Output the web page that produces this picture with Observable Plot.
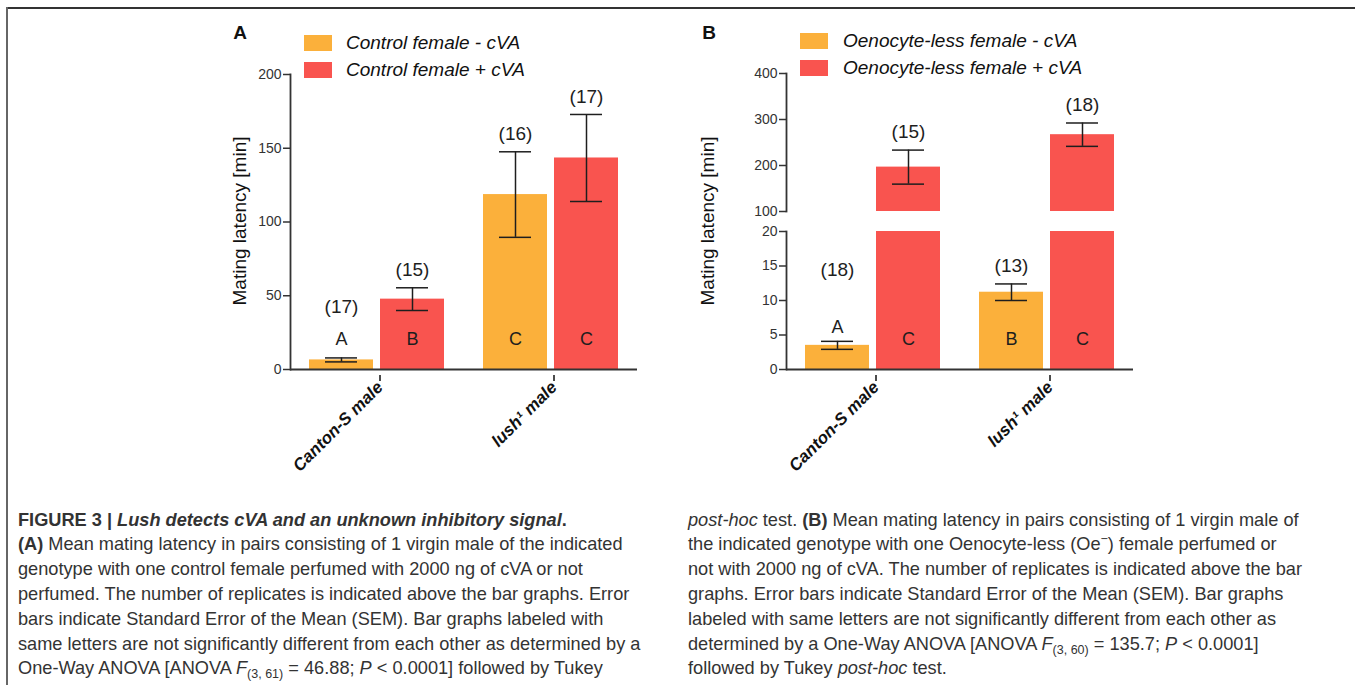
<!DOCTYPE html>
<html><head><meta charset="utf-8">
<script src="https://cdn.jsdelivr.net/npm/d3@7"></script>
<script src="https://cdn.jsdelivr.net/npm/@observablehq/plot@0.6"></script>
<style>
body{margin:0;background:#fff;}
#fig{position:relative;width:1355px;height:685px;overflow:hidden;font-family:"Liberation Sans",Arial,sans-serif;background:#fff;}
.frameTop{position:absolute;left:6px;top:7px;width:1349px;border-top:2px solid #333;}
.frameLeft{position:absolute;left:6px;top:7px;height:678px;border-left:2px solid #666;}
.plot{position:absolute;top:0;}
.panel{position:absolute;font-weight:bold;font-size:19px;color:#111;transform:translate(-50%,-50%);}
.leg{position:absolute;font-style:italic;font-size:19px;color:#111;white-space:nowrap;transform:translateY(-50%);}
.sw{position:absolute;width:28px;height:16px;}
.ytitle{position:absolute;font-size:19px;color:#111;transform:translate(-50%,-50%) rotate(-90deg);white-space:nowrap;}
.cap{position:absolute;font-size:18.2px;color:#333;line-height:24.8px;white-space:nowrap;}
.cap sub{font-size:12.5px;vertical-align:-4px;line-height:0;}
.cap sup{font-size:12.5px;vertical-align:7px;line-height:0;}
</style></head><body><div id="fig"></div>
<script>
// ---------- data ----------
const genotypes = ["Canton-S male", "lush¹ male"];
const treatments = ["-cVA", "+cVA"];
const colors = ["#FBB03B", "#F9544F"];

// Panel A: control female
const legendA = ["Control female - cVA", "Control female + cVA"];
const aMinusMean = [6.5, 118.6];
const aMinusSem = [1.35, 29];
const aMinusN = [17, 16];
const aMinusLetter = ["A", "C"];
const aPlusMean = [47.7, 143.4];
const aPlusSem = [7.7, 29.5];
const aPlusN = [15, 17];
const aPlusLetter = ["B", "C"];
const aTicks = [0, 50, 100, 150, 200];

// Panel B: oenocyte-less female
const legendB = ["Oenocyte-less female - cVA", "Oenocyte-less female + cVA"];
const bMinusMean = [3.5, 11.2];
const bMinusSem = [0.58, 1.2];
const bMinusN = [18, 13];
const bMinusLetter = ["A", "B"];
const bPlusMean = [196.5, 267];
const bPlusSem = [37, 25.4];
const bPlusN = [15, 18];
const bPlusLetter = ["C", "C"];
const bLowTicks = [0, 5, 10, 15, 20];
const bHighTicks = [100, 200, 300, 400];

const yTitle = "Mating latency [min]";

// ---------- build tables ----------
function rowsFor(means, sems, ns, letters, t) {
  return genotypes.map((g, i) => ({genotype: g, treatment: t, mean: means[i], sem: sems[i], n: ns[i], letter: letters[i]}));
}
const rowsA = [rowsFor(aMinusMean, aMinusSem, aMinusN, aMinusLetter, treatments[0]),
               rowsFor(aPlusMean, aPlusSem, aPlusN, aPlusLetter, treatments[1])];
const rowsB = [rowsFor(bMinusMean, bMinusSem, bMinusN, bMinusLetter, treatments[0]),
               rowsFor(bPlusMean, bPlusSem, bPlusN, bPlusLetter, treatments[1])];

const INK = "#1e1e1e", AX = "#333";
const OFF = 35.5;              // sub-bar centre offset from band centre (px)
const BAR_IN = 71, CAP_NEAR = 16, CAP_FAR = 87;

function makePanel(o) {
  const marks = [];
  o.rows.forEach((rows, k) => {
    const sgn = k === 0 ? -1 : 1;
    const shown = rows.filter(d => d.mean > o.domain[0]);
    marks.push(Plot.barY(shown, {
      x: "genotype", y1: o.domain[0], y2: d => Math.min(d.mean, o.domain[1]),
      fill: colors[k], insetLeft: k ? BAR_IN : 0, insetRight: k ? 0 : BAR_IN
    }));
    const inside = rows.filter(d => d.mean >= o.domain[0] && d.mean <= o.domain[1]);
    marks.push(Plot.ruleX(inside, {x: "genotype", y1: d => d.mean - d.sem, y2: d => d.mean + d.sem, dx: sgn * OFF, stroke: INK, strokeWidth: 1.5}));
    for (const s of [-1, 1]) {
      marks.push(Plot.tickY(inside, {x: "genotype", y: d => d.mean + s * d.sem, insetLeft: k ? CAP_FAR : CAP_NEAR, insetRight: k ? CAP_NEAR : CAP_FAR, stroke: INK, strokeWidth: 1.5}));
    }
    marks.push(Plot.text(inside, {x: "genotype", y: d => Math.max(d.mean + d.sem, o.nFloor), text: d => `(${d.n})`, dx: sgn * OFF, dy: -18, fontSize: 19, fill: INK}));
    if (o.letters) {
      marks.push(Plot.text(rows, {x: "genotype",
        y: d => d.mean < o.letterLevel ? Math.max(o.letterLevel, d.mean + d.sem + o.letterPad) : o.letterLevel,
        text: "letter", dx: sgn * OFF, fontSize: 18, fill: INK}));
    }
  });
  marks.push(Plot.axisY({ticks: o.ticks, tickSize: 7, tickPadding: 2, fontSize: 14, color: AX, strokeWidth: 1.5, label: null}));
  marks.push(Plot.frame({anchor: "left", stroke: AX, strokeWidth: 1.8}));
  if (o.xAxis) {
    marks.push(Plot.ruleY([o.domain[0]], {stroke: AX, strokeWidth: 1.8}));
    marks.push(Plot.axisX({tickSize: 6, tickPadding: 3, tickRotate: -45, fontSize: 17, fontWeight: "bold", fontStyle: "italic", color: "#111", strokeWidth: 1.5, label: null, dx: 3, dy: 6}));
  }
  const svg = Plot.plot({
    width: o.width, height: 520,
    marginLeft: o.marginLeft, marginRight: o.marginRight, marginTop: o.marginTop, marginBottom: o.marginBottom,
    x: {domain: genotypes, paddingInner: 0.224, paddingOuter: 0.109, axis: null},
    y: {domain: o.domain, axis: null},
    style: {fontFamily: "Liberation Sans, Arial, sans-serif", fontSize: "14px", background: "transparent", overflow: "visible"},
    marks
  });
  svg.classList.add("plot");
  svg.style.left = o.left + "px";
  svg.style.position = "absolute";
  svg.style.top = "0px";
  return svg;
}

const fig = document.getElementById("fig");
fig.insertAdjacentHTML("beforeend", `<div class="frameTop"></div><div class="frameLeft"></div>`);

fig.appendChild(makePanel({rows: rowsA, domain: [0, 200], ticks: aTicks, left: 200, width: 460,
  marginLeft: 90, marginRight: 23, marginTop: 74, marginBottom: 151, xAxis: true, letters: true,
  nFloor: 30, letterLevel: 20.3, letterPad: 9.5}));
fig.appendChild(makePanel({rows: rowsB, domain: [100, 400], ticks: bHighTicks, left: 690, width: 480,
  marginLeft: 96, marginRight: 37, marginTop: 73, marginBottom: 309, xAxis: false, letters: false,
  nFloor: 0}));
fig.appendChild(makePanel({rows: rowsB, domain: [0, 20], ticks: bLowTicks, left: 690, width: 480,
  marginLeft: 96, marginRight: 37, marginTop: 231, marginBottom: 151, xAxis: true, letters: true,
  nFloor: 11.8, letterLevel: 4.36, letterPad: 2.03}));

// panel labels, titles, legends
function addLegend(labels, left, top, textLeft) {
  labels.forEach((lab, k) => {
    fig.insertAdjacentHTML("beforeend",
      `<div class="sw" style="left:${left}px;top:${top + k * 26.5}px;background:${colors[k]}"></div>` +
      `<div class="leg" style="left:${textLeft}px;top:${top + 8 + k * 26.5}px">${lab}</div>`);
  });
}
fig.insertAdjacentHTML("beforeend", `<div class="panel" style="left:240px;top:33px">A</div>`);
fig.insertAdjacentHTML("beforeend", `<div class="panel" style="left:709px;top:33px">B</div>`);
fig.insertAdjacentHTML("beforeend", `<div class="ytitle" style="left:240px;top:221px">${yTitle}</div>`);
fig.insertAdjacentHTML("beforeend", `<div class="ytitle" style="left:708px;top:221px">${yTitle}</div>`);
addLegend(legendA, 304, 35, 346);
addLegend(legendB, 800, 33, 843);

// caption
const capLeft = [
  `<b>FIGURE 3 | <i>Lush detects cVA and an unknown inhibitory signal</i>.</b>`,
  `<b>(A)</b> Mean mating latency in pairs consisting of 1 virgin male of the indicated`,
  `genotype with one control female perfumed with 2000 ng of cVA or not`,
  `perfumed. The number of replicates is indicated above the bar graphs. Error`,
  `bars indicate Standard Error of the Mean (SEM). Bar graphs labeled with`,
  `same letters are not significantly different from each other as determined by a`,
  `One-Way ANOVA [ANOVA <i>F</i><sub>(3, 61)</sub> = 46.88; <i>P</i> &lt; 0.0001] followed by Tukey`
];
const capRight = [
  `<i>post-hoc</i> test. <b>(B)</b> Mean mating latency in pairs consisting of 1 virgin male of`,
  `the indicated genotype with one Oenocyte-less (Oe<sup>−</sup>) female perfumed or`,
  `not with 2000 ng of cVA. The number of replicates is indicated above the bar`,
  `graphs. Error bars indicate Standard Error of the Mean (SEM). Bar graphs`,
  `labeled with same letters are not significantly different from each other as`,
  `determined by a One-Way ANOVA [ANOVA <i>F</i><sub>(3, 60)</sub> = 135.7; <i>P</i> &lt; 0.0001]`,
  `followed by Tukey <i>post-hoc</i> test.`
];
capLeft.forEach((l, i) => fig.insertAdjacentHTML("beforeend", `<div class="cap" style="left:18px;top:${507.6 + i * 24.8}px">${l}</div>`));
capRight.forEach((l, i) => fig.insertAdjacentHTML("beforeend", `<div class="cap" style="left:688px;top:${507.6 + i * 24.8}px">${l}</div>`));
</script></body></html>
